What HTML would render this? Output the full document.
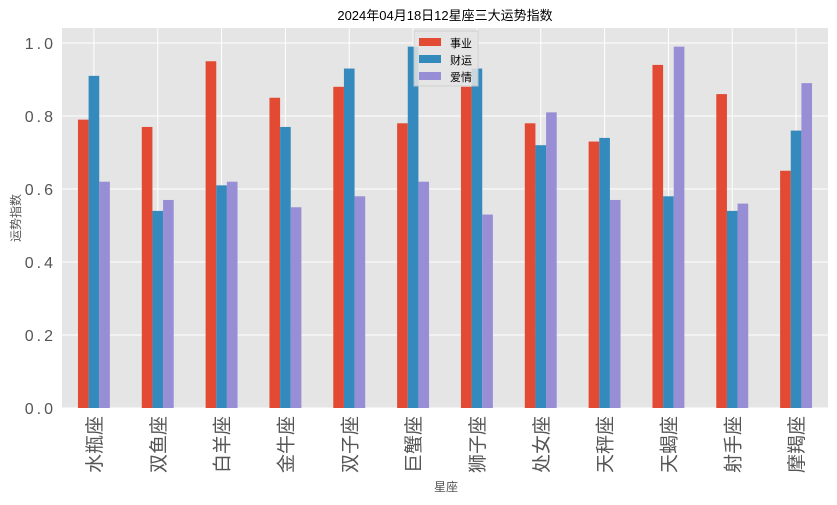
<!DOCTYPE html>
<html><head><meta charset="utf-8"><style>
body{margin:0;background:#fff;font-family:"Liberation Sans","Noto Sans CJK SC",sans-serif}
svg text{font-family:"Liberation Sans","Noto Sans CJK SC",sans-serif}
</style></head><body>
<svg id="chart" width="837" height="500" xmlns="http://www.w3.org/2000/svg">
<rect x="0" y="0" width="837" height="500" fill="#fff"/>
<rect x="62" y="28" width="766" height="380" fill="#e5e5e5"/>
<g id="grid"></g><g id="bars"></g><g id="axes"></g>
<text x="445" y="20" text-anchor="middle" font-size="13" fill="#000">2024年04月18日12星座三大运势指数</text>
<text x="446" y="491" text-anchor="middle" font-size="12" fill="#555">星座</text>
<text x="20" y="218" text-anchor="middle" font-size="12" fill="#555" transform="rotate(-90 20 218)">运势指数</text>
<g>
<rect x="414" y="31" width="64" height="55" fill="#e5e5e5" stroke="#ccc" opacity="0.85"/>
<rect x="419" y="38" width="22" height="8" fill="#E24A33"/>
<text x="450" y="47" font-size="11" fill="#000">事业</text>
<rect x="419" y="55" width="22" height="8" fill="#348ABD"/>
<text x="450" y="64" font-size="11" fill="#000">财运</text>
<rect x="419" y="72" width="22" height="8" fill="#988ED5"/>
<text x="450" y="81" font-size="11" fill="#000">爱情</text>
</g>
</svg>
<script>
const categories=["水瓶座","双鱼座","白羊座","金牛座","双子座","巨蟹座","狮子座","处女座","天秤座","天蝎座","射手座","摩羯座"];
const career=[0.79,0.77,0.95,0.85,0.88,0.78,0.88,0.78,0.73,0.94,0.86,0.65];
const wealth=[0.91,0.54,0.61,0.77,0.93,0.99,0.93,0.72,0.74,0.58,0.54,0.76];
const love=[0.62,0.57,0.62,0.55,0.58,0.62,0.53,0.81,0.57,0.99,0.56,0.89];
const yTicks=[0,0.2,0.4,0.6,0.8,1.0];
const yTickLabels=["0.0","0.2","0.4","0.6","0.8","1.0"];
const NS="http://www.w3.org/2000/svg";
const L=62,R=828,T=28,B=408;
const y=v=>B-v*365;
const step=(R-L)/categories.length;
const xc=i=>L+step*(i+0.5);
const bw=step*0.5/3;
function mk(tag,attrs,parent){const e=document.createElementNS(NS,tag);for(const k in attrs)e.setAttribute(k,attrs[k]);parent.appendChild(e);return e;}
const grid=document.getElementById('grid'),bars=document.getElementById('bars'),axes=document.getElementById('axes');
yTicks.forEach((t,i)=>{
 const l=mk('line',{x1:L,x2:R,y1:y(t),y2:y(t),stroke:'#fff','stroke-width':1},grid);
 
 
 const tx=mk('text',{x:L-6,y:y(t)+6,'text-anchor':'end','font-size':16,fill:'#555'},axes);
 tx.textContent=yTickLabels[i].split('').join(' ').replace(' . ',' .').replace(/\s/g,'');
 tx.textContent=yTickLabels[i];
 tx.setAttribute('letter-spacing','3');
 
 
});
const series=[[career,'#E24A33','career'],[wealth,'#348ABD','wealth'],[love,'#988ED5','love']];
categories.forEach((c,i)=>{
 const g=mk('line',{x1:xc(i),x2:xc(i),y1:T,y2:B,stroke:'#fff','stroke-width':1},grid);
 
 
 series.forEach((s,j)=>{
  const v=s[0][i];
  const r=mk('rect',{x:xc(i)-1.5*bw+j*bw,y:y(v),width:bw,height:B-y(v),fill:s[1]},bars);
  
  
 });
 const t=mk('text',{x:0,y:0,'text-anchor':'end','font-size':19,fill:'#555',transform:`translate(${xc(i)+7},${B+8}) rotate(-90)`},axes);
 t.textContent=c;
 
 
});
</script>
</body></html>
